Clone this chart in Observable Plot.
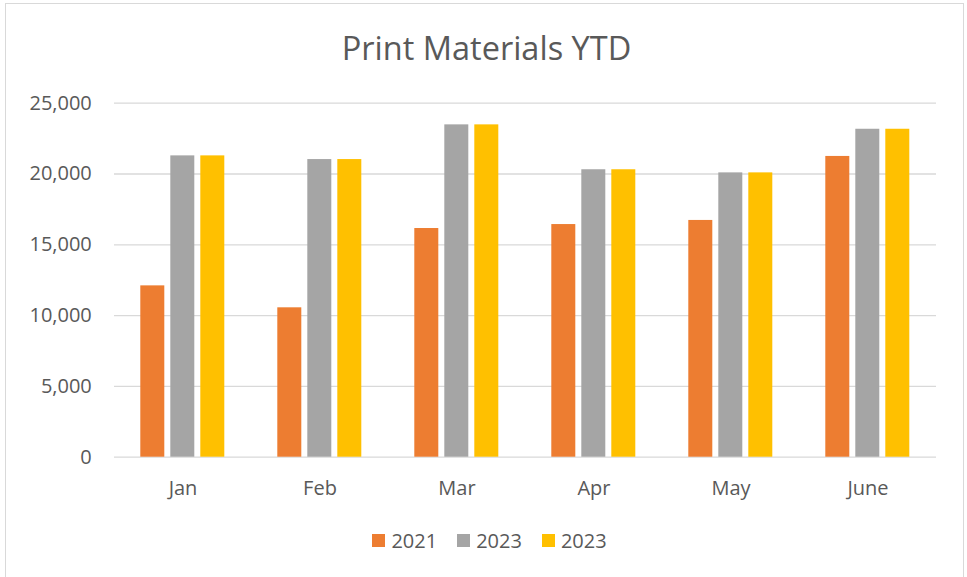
<!DOCTYPE html>
<html>
<head>
<meta charset="utf-8">
<script src="https://cdn.jsdelivr.net/npm/d3@7"></script>
<script src="https://cdn.jsdelivr.net/npm/@observablehq/plot@0.6"></script>
<style>
  html, body { margin: 0; padding: 0; background: #fff; }
  #wrap { position: relative; width: 967px; height: 577px; overflow: hidden; font-family: "Open Sans", sans-serif; color: #595959; }
  #border { position: absolute; left: 5px; top: 3px; width: 959px; height: 580px; border: 1px solid #d9d9d9; box-sizing: border-box; pointer-events: none; }
  #title { height: 90px; line-height: 90px; text-align: center; font-size: 32.5px; padding-left: 6px; padding-top: 3px; box-sizing: border-box; white-space: nowrap; }
  #chart svg { display: block; }
  #legend { height: 67px; display: flex; justify-content: center; align-items: center; gap: 20px; font-size: 20px; padding-left: 12px; padding-bottom: 6px; box-sizing: border-box; }
  .item { display: flex; align-items: center; gap: 6px; }
  .sw { width: 13px; height: 13px; display: inline-block; }
</style>
</head>
<body>
<div id="wrap">
  <div id="border"></div>
  <div id="title">Print Materials YTD</div>
  <div id="chart"></div>
  <div id="legend"></div>
</div>
<script>
const months = ["Jan", "Feb", "Mar", "Apr", "May", "June"];
const seriesNames = ["2021", "2023", "2023"];
const seriesKeys = ["s2021", "s2023a", "s2023b"];
const seriesColors = ["#ED7D31", "#A5A5A5", "#FFC000"];
const values2021 = [12100, 10550, 16150, 16430, 16720, 21240];
const values2023a = [21280, 21020, 23470, 20300, 20080, 23160];
const values2023b = [21280, 21020, 23470, 20300, 20080, 23160];
const yTicks = [0, 5000, 10000, 15000, 20000, 25000];

const seriesValues = [values2021, values2023a, values2023b];
const data = [];
months.forEach((m, i) => {
  seriesKeys.forEach((k, j) => {
    data.push({month: m, key: k, value: seriesValues[j][i]});
  });
});

const chart = Plot.plot({
  width: 967,
  height: 420,
  marginTop: 12.7,
  marginBottom: 53.3,
  marginLeft: 112.7,
  marginRight: 29.3,
  style: {fontFamily: "Open Sans, sans-serif", fontSize: "20px", color: "#595959", background: "transparent"},
  fx: {domain: months, padding: 0, label: null, axis: "bottom", tickSize: 0, tickPadding: 24},
  x: {domain: seriesKeys, paddingInner: 0.213, paddingOuter: 0.8607, axis: null},
  y: {domain: [0, 25000], ticks: yTicks, tickFormat: d3.format(","), tickSize: 0, tickPadding: 22.7, label: null},
  color: {domain: seriesKeys, range: seriesColors},
  marks: [
    Plot.ruleY(yTicks, {stroke: "#d9d9d9", strokeWidth: 1.3}),
    Plot.barY(data, {fx: "month", x: "key", y: "value", fill: "key"})
  ]
});
document.getElementById("chart").appendChild(chart);

const legend = document.getElementById("legend");
seriesNames.forEach((name, i) => {
  const item = document.createElement("div");
  item.className = "item";
  const sw = document.createElement("span");
  sw.className = "sw";
  sw.style.background = seriesColors[i];
  const t = document.createElement("span");
  t.textContent = name;
  item.appendChild(sw);
  item.appendChild(t);
  legend.appendChild(item);
});
</script>
</body>
</html>
